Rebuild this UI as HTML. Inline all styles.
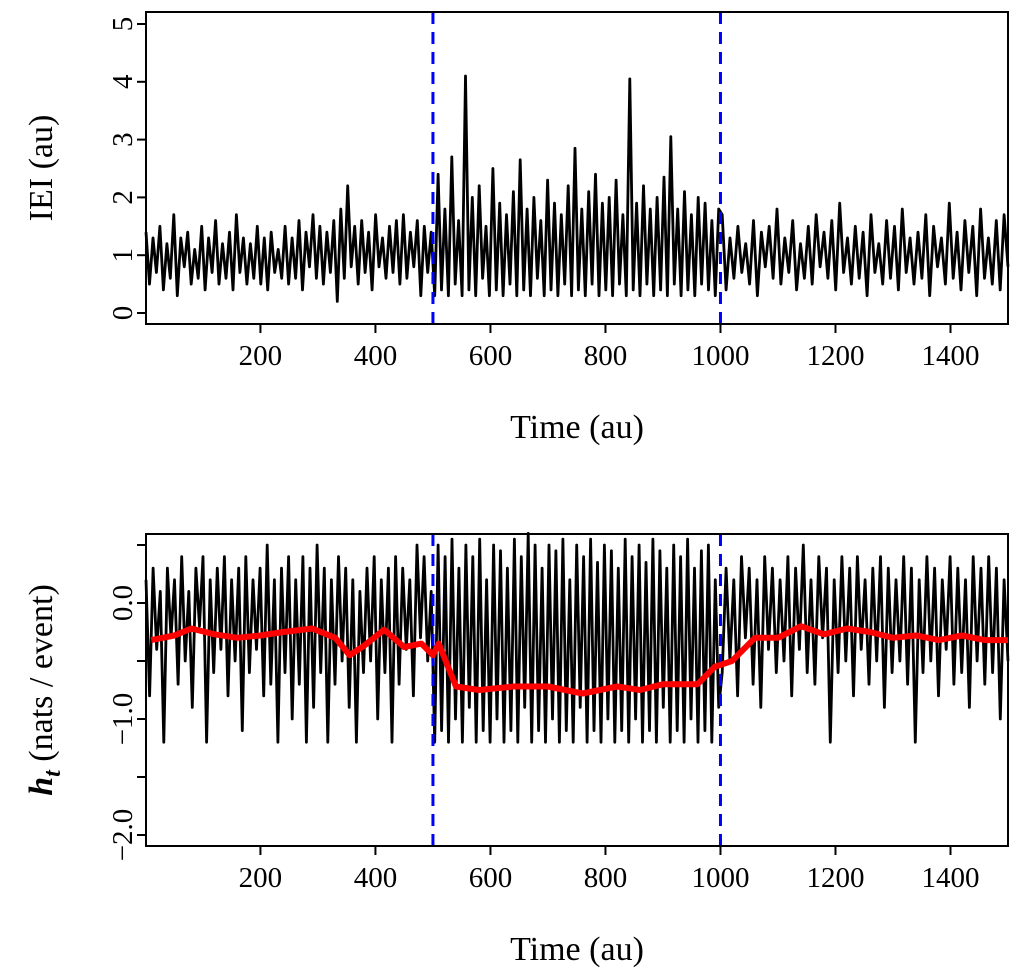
<!DOCTYPE html>
<html><head><meta charset="utf-8"><style>
body{margin:0;background:#fff}
svg text{font-family:"Liberation Serif",serif;fill:#000}
</style></head><body>
<svg id="c" width="1024" height="974"></svg>
<script>
const xTicks=[200,400,600,800,1000,1200,1400];
const ieiTicks=[0,1,2,3,4,5];
const hTicks=[0,-1,-2];
const hTickLabels=["0.0","\u22121.0","\u22122.0"];
const hMinorTicks=[0.5,0,-0.5,-1,-1.5,-2];
const changePoints=[500,1000];
const ieiPre=[1.4,0.5,1.3,0.7,1.5,0.4,1.2,0.6,1.7,0.3,1.3,0.8,1.4,0.5,1.1,0.6,1.5,0.4,1.3,0.7,1.6,0.5,1.2,0.6,1.4,0.4,1.7,0.7,1.3,0.5,1.2,0.6,1.5,0.5,1.3,0.4,1.4,0.7,1.1,0.6,1.5,0.5,1.3,0.6,1.6,0.4,1.4,0.8,1.7,0.6,1.5,0.5,1.4,0.7,1.6,0.2,1.8,0.6,2.2,0.8,1.5,0.5,1.6,0.7,1.4,0.4,1.7,0.8,1.3,0.6,1.5,0.7,1.6,0.5,1.7,0.6,1.4,0.8,1.6,0.3,1.5,0.7,1.4];
const ieiMid=[0.3,2.4,0.4,1.8,0.3,2.7,0.5,1.6,0.3,4.1,0.4,2.0,0.3,2.2,0.6,1.5,0.3,2.5,0.4,1.9,0.3,1.7,0.5,2.1,0.3,2.65,0.4,1.8,0.3,2.0,0.6,1.6,0.3,2.3,0.4,1.9,0.3,1.7,0.5,2.2,0.3,2.85,0.4,1.8,0.3,2.1,0.5,2.4,0.3,1.9,0.4,2.0,0.3,2.3,0.5,1.7,0.3,4.05,0.4,1.9,0.3,2.2,0.5,1.8,0.3,2.0,0.4,2.35,0.3,3.05,0.5,1.8,0.3,2.1,0.4,1.7,0.3,2.0,0.5,1.9,0.4,1.6,0.3,1.8];
const ieiPost=[1.7,0.4,1.3,0.6,1.5,0.7,1.2,0.5,1.6,0.3,1.4,0.8,1.5,0.6,1.8,0.5,1.3,0.7,1.6,0.4,1.2,0.6,1.5,0.5,1.7,0.8,1.4,0.6,1.6,0.4,1.9,0.7,1.3,0.5,1.5,0.6,1.4,0.3,1.7,0.7,1.2,0.5,1.6,0.6,1.5,0.4,1.8,0.7,1.3,0.5,1.4,0.6,1.7,0.3,1.5,0.8,1.3,0.5,1.9,0.6,1.4,0.4,1.6,0.7,1.5,0.3,1.8,0.6,1.3,0.5,1.6,0.4,1.7,0.8];
const hPre=[0.2,-0.8,0.3,-0.4,0.1,-1.2,0.3,-0.3,0.2,-0.7,0.4,-0.5,0.1,-0.9,0.3,-0.2,0.4,-1.2,0.2,-0.6,0.3,-0.4,0.4,-0.8,0.2,-0.5,0.3,-1.1,0.4,-0.6,0.2,-0.4,0.3,-0.8,0.5,-0.7,0.2,-1.2,0.3,-0.6,0.4,-1.0,0.2,-0.7,0.4,-1.2,0.3,-0.9,0.5,-0.6,0.3,-1.2,0.2,-0.7,0.4,-0.5,0.3,-0.9,0.2,-1.2,0.1,-0.6,0.3,-0.5,0.4,-1.0,0.2,-0.6,0.3,-1.2,0.4,-0.7,0.3,-0.4,0.2,-0.8,0.5,-0.3,0.4,-0.5,0.1];
const hMid=[-1.2,0.5,-1.1,0.4,-1.2,0.55,-1.0,0.3,-1.2,0.5,-0.9,0.4,-1.2,0.55,-1.1,0.2,-1.2,0.5,-1.0,0.45,-1.2,0.3,-1.1,0.55,-1.2,0.4,-0.9,0.6,-1.2,0.5,-1.1,0.3,-1.2,0.5,-1.0,0.45,-1.2,0.55,-1.1,0.2,-1.2,0.5,-0.9,0.4,-1.2,0.55,-1.1,0.35,-1.2,0.5,-1.0,0.45,-1.2,0.3,-1.1,0.55,-1.2,0.4,-1.0,0.5,-1.2,0.35,-1.1,0.55,-1.2,0.45,-0.9,0.3,-1.2,0.5,-1.1,0.4,-1.2,0.55,-1.0,0.3,-1.2,0.45,-1.1,0.5,-1.2,0.2,-0.9];
const hPost=[-0.6,0.3,-0.5,0.2,-0.8,0.4,-0.3,0.3,-0.7,0.2,-0.9,0.4,-0.4,0.3,-0.6,0.2,-0.5,0.4,-0.8,0.3,-0.4,0.5,-0.6,0.2,-0.7,0.4,-0.3,0.3,-1.2,0.2,-0.6,0.4,-0.5,0.3,-0.8,0.4,-0.4,0.2,-0.7,0.3,-0.5,0.4,-0.9,0.3,-0.6,0.2,-0.5,0.4,-0.7,0.3,-1.2,0.2,-0.6,0.4,-0.5,0.3,-0.8,0.2,-0.4,0.4,-0.7,0.3,-0.6,0.2,-0.9,0.4,-0.5,0.3,-0.7,0.4,-0.6,0.3,-1.0,0.2,-0.5];
const smoothT=[10,50,80,120,160,200,240,290,330,355,380,415,450,480,500,510,540,580,640,700,760,820,860,900,960,990,1020,1060,1100,1140,1180,1220,1260,1300,1340,1380,1420,1460,1500];
const smoothH=[-0.32,-0.28,-0.22,-0.27,-0.30,-0.28,-0.25,-0.22,-0.30,-0.45,-0.37,-0.23,-0.38,-0.35,-0.45,-0.35,-0.72,-0.75,-0.72,-0.72,-0.78,-0.72,-0.75,-0.70,-0.70,-0.55,-0.50,-0.30,-0.30,-0.20,-0.27,-0.22,-0.25,-0.30,-0.28,-0.32,-0.28,-0.32,-0.32];

const NS="http://www.w3.org/2000/svg",svg=document.getElementById('c');
function mk(tag,at,parent){const e=document.createElementNS(NS,tag);for(const k in at)e.setAttribute(k,at[k]);(parent||svg).appendChild(e);return e;}
const X=t=>146+(t-1)/(1499)*(1008-146);
function segPts(arr,t0,t1,Y){return arr.map((v,i)=>X(t0+i*(t1-t0)/(arr.length-1)).toFixed(1)+','+Y(v).toFixed(1));}

function panel(top,bot,Y,yticks,ylabels,minor,pre,mid,post,name){
  const g=mk('g',{});
  
  
  const pts=[...segPts(pre,1,497,Y),...segPts(mid,503,997,Y),...segPts(post,1003,1500,Y)];
  const l=mk('polyline',{points:pts.join(' '),fill:'none',stroke:'#000','stroke-width':2.8,'stroke-linejoin':'round'},g);
  
  
  changePoints.forEach(cp=>{const d=mk('line',{x1:X(cp),x2:X(cp),y1:top,y2:bot,stroke:'#0000ff','stroke-width':3,'stroke-dasharray':'12,8'},g);
    
    });
  const b=mk('rect',{x:146,y:top,width:862,height:bot-top,fill:'none',stroke:'#000','stroke-width':2},g);
  
  
  xTicks.forEach(t=>{mk('line',{x1:X(t),x2:X(t),y1:bot,y2:bot+9,stroke:'#000','stroke-width':2},g);
    const tx=mk('text',{x:X(t),y:bot+41,'text-anchor':'middle','font-size':29},g);tx.textContent=t;
    
    });
  minor.forEach(v=>mk('line',{x1:137,x2:146,y1:Y(v),y2:Y(v),stroke:'#000','stroke-width':2},g));
  yticks.forEach((v,i)=>{const tx=mk('text',{x:0,y:0,'text-anchor':'middle','font-size':29,transform:`translate(132,${Y(v)}) rotate(-90)`},g);tx.textContent=ylabels[i];
    
    });
  const xl=mk('text',{x:577,y:bot+114,'text-anchor':'middle','font-size':34},g);xl.textContent='Time (au)';
  
  
  return g;
}
const Y1=v=>313-v*57.8;
panel(12,324,Y1,ieiTicks,ieiTicks.map(String),ieiTicks,ieiPre,ieiMid,ieiPost,'iei-panel');
const yl1=mk('text',{x:0,y:0,'text-anchor':'middle','font-size':34,transform:'translate(52,168) rotate(-90)'});yl1.textContent='IEI (au)';



const Y2=v=>603-v*116;
const g2=panel(534,846,Y2,hTicks,hTickLabels,hMinorTicks,hPre,hMid,hPost,'entropy-panel');
const sm=mk('polyline',{points:smoothT.map((t,i)=>X(t).toFixed(1)+','+Y2(smoothH[i]).toFixed(1)).join(' '),fill:'none',stroke:'#ff0000','stroke-width':6,'stroke-linejoin':'round'},g2);


const yl2=mk('text',{x:0,y:0,'text-anchor':'middle','font-size':34,transform:'translate(52,690) rotate(-90)'});
yl2.innerHTML='<tspan font-weight="bold" font-style="italic">h</tspan><tspan font-weight="bold" font-style="italic" font-size="24" dy="8">t</tspan><tspan dy="-8"> (nats / event)</tspan>';


</script>
</body></html>
